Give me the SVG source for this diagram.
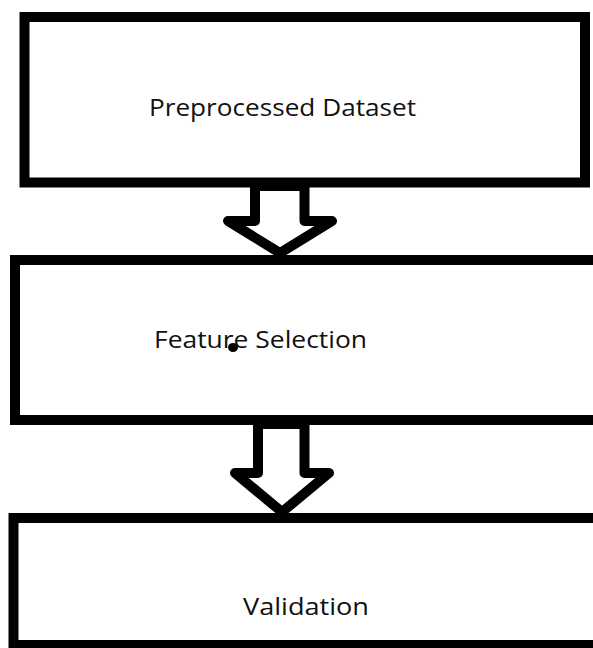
<svg xmlns="http://www.w3.org/2000/svg" width="593" height="648" viewBox="0 0 593 648">
<style>
.box{fill:#fff;stroke:#000;stroke-width:10}
.arrow{fill:#fff;stroke:#000;stroke-width:10;stroke-linejoin:round}
.label{font-family:"Open Sans","Noto Sans","Liberation Sans",sans-serif;font-size:23px;fill:#111}
</style>
<rect width="593" height="648" fill="#fff"/>
<g id="node-preprocessed">
<rect class="box" x="24.5" y="17" width="560.5" height="165.5"/>
<text class="label" x="149" y="116" textLength="267" lengthAdjust="spacingAndGlyphs">Preprocessed Dataset</text>
</g>
<g id="node-feature">
<rect class="box" x="15" y="260" width="585" height="160"/>
<text class="label" x="154" y="348" textLength="213" lengthAdjust="spacingAndGlyphs">Feature Selection</text>
<ellipse cx="233" cy="347.5" rx="5" ry="4.5" fill="#000"/>
</g>
<g id="node-validation">
<rect class="box" x="13.5" y="518" width="590" height="127"/>
<text class="label" x="243" y="615" textLength="126" lengthAdjust="spacingAndGlyphs">Validation</text>
</g>
<g id="connectors">
<polygon class="arrow" points="255,186 255,221 228,221 280,253 332,221 304.5,221 304.5,186"/>
<polygon class="arrow" points="258,424 258,473 235,473 282,512 329,473 304.5,473 304.5,424"/>
<rect x="252" y="182" width="56" height="9" fill="#000"/>
<rect x="255" y="418" width="54" height="11" fill="#000"/>
</g>
</svg>
